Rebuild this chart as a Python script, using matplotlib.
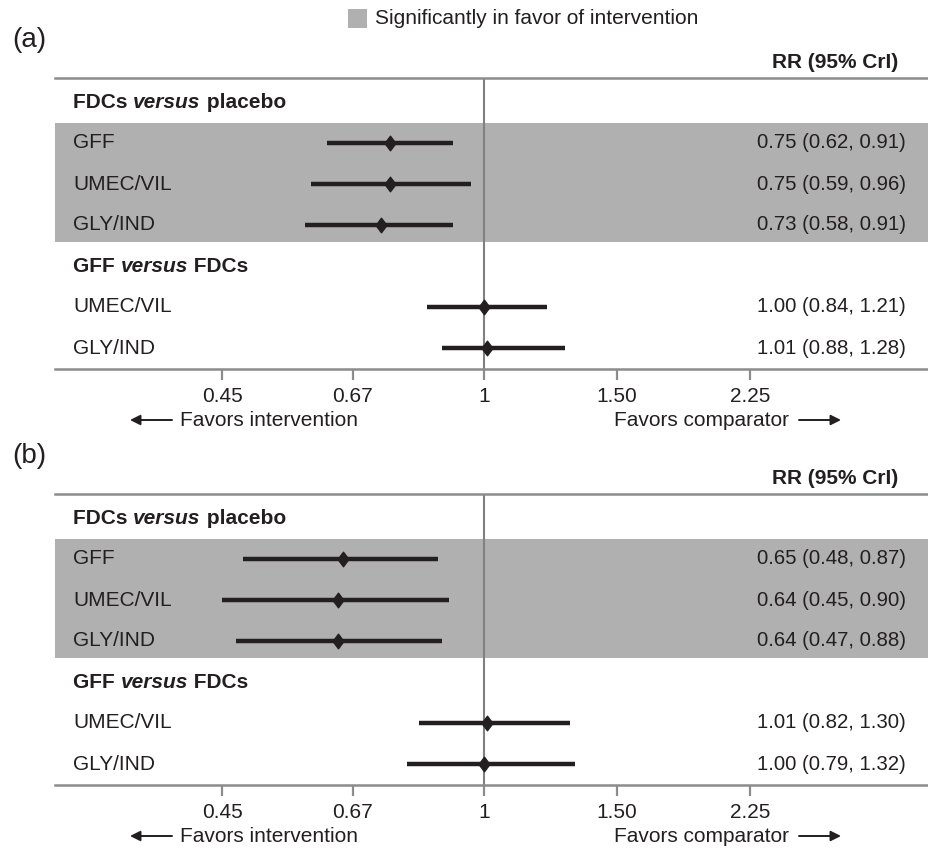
""" Forest plots (a) y (b): RR (95% CrI) de FDCs frente a placebo y GFF frente a FDCs """

import numpy as np
import matplotlib
matplotlib.use("Agg")
import matplotlib.pyplot as plt
from matplotlib.path import Path
from matplotlib.patches import Rectangle

plt.rcParams['font.family'] = ['Liberation Sans', 'DejaVu Sans']

# datos
group_titles = [("FDCs ", "versus", " placebo"), ("GFF ", "versus", " FDCs")]
row_labels = ["GFF", "UMEC/VIL", "GLY/IND", "UMEC/VIL", "GLY/IND"]
significant = [True, True, True, False, False]

rr_a = [0.75, 0.75, 0.73, 1.00, 1.01]
lo_a = [0.62, 0.59, 0.58, 0.84, 0.88]
hi_a = [0.91, 0.96, 0.91, 1.21, 1.28]

rr_b = [0.65, 0.64, 0.64, 1.01, 1.00]
lo_b = [0.48, 0.45, 0.47, 0.82, 0.79]
hi_b = [0.87, 0.90, 0.88, 1.30, 1.32]

x_ticks = [0.45, 0.67, 1, 1.50, 2.25]
x_tick_labels = ["0.45", "0.67", "1", "1.50", "2.25"]

TEXT = "#231f20"
GREY_LINE = "#8c8c8c"
SHADE = "#b0b0b0"
FS = 15
FS_VAL = 14.7

W, H = 929, 848
PX_PER_LN = 328.0
X_ONE = 484.0
ROW0 = 102.0
ROW_STEP = 41.0

diamond = Path([(0, 1), (0.75, 0), (0, -1), (-0.75, 0), (0, 1)],
               [Path.MOVETO, Path.LINETO, Path.LINETO, Path.LINETO, Path.CLOSEPOLY])


def px_x(px):
    """ pixel horizontal -> fraccion de ejes """
    return (px - 55) / (W - 55)


def px_row(py, offset):
    """ pixel vertical -> coordenada de fila """
    return (py - offset - ROW0) / ROW_STEP


def draw_panel(fig, top_px, letter, rr, lo, hi):
    bottom_px = top_px + 291
    ax = fig.add_axes([55 / W, 1 - bottom_px / H, (W - 55) / W, (bottom_px - top_px) / H])
    offset = top_px - 78
    ax.set_xscale("log")
    ax.set_xlim(np.exp((55 - X_ONE) / PX_PER_LN), np.exp((W - X_ONE) / PX_PER_LN))
    ax.set_ylim(px_row(bottom_px, offset), px_row(top_px, offset))

    for side in ["left", "right"]:
        ax.spines[side].set_visible(False)
    for side in ["top", "bottom"]:
        ax.spines[side].set_color(GREY_LINE)
        ax.spines[side].set_linewidth(1.8)

    ax.set_yticks([])
    ax.set_xticks(x_ticks)
    ax.set_xticklabels(x_tick_labels)
    ax.minorticks_off()
    ax.tick_params(axis="x", length=8, width=1.6, color=GREY_LINE, pad=5,
                   labelsize=FS, labelcolor=TEXT)

    ax.axhspan(0.52, 3.41, color=SHADE, lw=0, zorder=0)
    ax.axvline(1, color="#808080", lw=1.5, zorder=1)

    tr = ax.get_yaxis_transform()
    y_items = [1, 2, 3, 5, 6]
    y_groups = [0, 4]

    for (a, b, c), yg in zip(group_titles, y_groups):
        t1 = ax.text(px_x(73), yg, a, transform=tr, fontsize=FS, fontweight="bold",
                     color=TEXT, ha="left", va="center")
        t2 = ax.annotate(b, xy=(1, 0), xycoords=t1, fontsize=FS, fontweight="bold",
                         fontstyle="italic", color=TEXT, ha="left", va="bottom")
        ax.annotate(c, xy=(1, 0), xycoords=t2, fontsize=FS, fontweight="bold",
                    color=TEXT, ha="left", va="bottom")

    for i, y in enumerate(y_items):
        ax.text(px_x(73), y, row_labels[i], transform=tr, fontsize=FS, color=TEXT,
                ha="left", va="center")
        ax.text(px_x(906), y, "%.2f (%.2f, %.2f)" % (rr[i], lo[i], hi[i]), transform=tr,
                fontsize=FS_VAL, color=TEXT, ha="right", va="center")
        ax.hlines(y, lo[i], hi[i], color=TEXT, lw=3.2, zorder=3)
        ax.plot(rr[i], y, marker=diamond, ms=10.5, color=TEXT, ls="none", zorder=4)

    ax.text(px_x(898), px_row(top_px - 15, offset), "RR (95% CrI)", transform=tr,
            fontsize=FS, fontweight="bold", color=TEXT, ha="right", va="center", clip_on=False)
    ax.text(px_x(12), px_row(top_px - 38, offset), letter, transform=tr,
            fontsize=20, color=TEXT, ha="left", va="center", clip_on=False)

    y_fav = px_row(bottom_px + 51, offset)
    ax.text(px_x(180), y_fav, "Favors intervention", transform=tr, fontsize=FS,
            color=TEXT, ha="left", va="center", clip_on=False)
    ax.annotate("", xy=(px_x(130), y_fav), xytext=(px_x(172), y_fav), xycoords=tr,
                textcoords=tr, arrowprops=dict(arrowstyle="-|>", color=TEXT, lw=1.4,
                                               mutation_scale=15, shrinkA=0, shrinkB=0))
    ax.text(px_x(789), y_fav, "Favors comparator", transform=tr, fontsize=FS,
            color=TEXT, ha="right", va="center", clip_on=False)
    ax.annotate("", xy=(px_x(841), y_fav), xytext=(px_x(799), y_fav), xycoords=tr,
                textcoords=tr, arrowprops=dict(arrowstyle="-|>", color=TEXT, lw=1.4,
                                               mutation_scale=15, shrinkA=0, shrinkB=0))
    return ax


fig = plt.figure(figsize=(W / 100, H / 100), dpi=100)

fig.add_artist(Rectangle((348 / W, 1 - 28 / H), 19 / W, 19 / H, color=SHADE, lw=0,
                         transform=fig.transFigure))
fig.text(375 / W, 1 - 18 / H, "Significantly in favor of intervention", fontsize=FS,
         color=TEXT, ha="left", va="center")

draw_panel(fig, 78, "(a)", rr_a, lo_a, hi_a)
draw_panel(fig, 494, "(b)", rr_b, lo_b, hi_b)

fig.savefig("out.png", dpi=100)
